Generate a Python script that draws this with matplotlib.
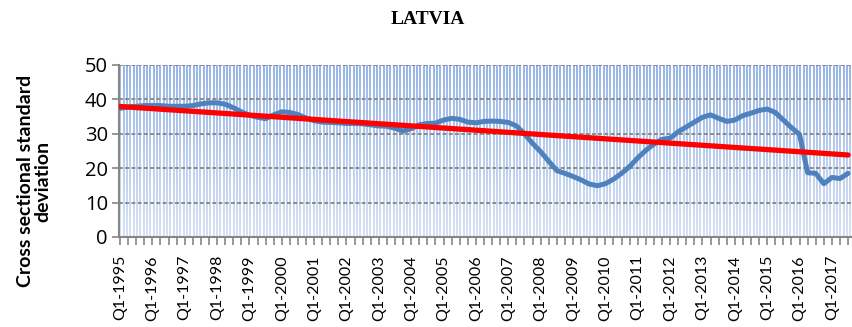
import numpy as np
import matplotlib
matplotlib.use("Agg")
from matplotlib import pyplot as plt

# quarterly cross sectional std dev, Q1-1995 .. Q3-2017
years = list(range(1995, 2018))
std_dev = [
    37.4, 37.8, 38.0, 38.2,
    38.2, 38.2, 38.0, 38.0,
    38.0, 38.2, 38.7, 39.0,
    39.0, 38.6, 37.6, 36.4,
    35.4, 34.8, 34.4, 35.5,
    36.4, 36.2, 35.6, 34.6,
    33.8, 33.4, 33.3, 33.2,
    33.0, 33.0, 32.9, 32.6,
    32.3, 32.2, 31.6, 30.8,
    31.5, 32.6, 33.0, 33.1,
    34.0, 34.5, 34.2, 33.4,
    33.2, 33.6, 33.7, 33.6,
    33.3, 32.3, 30.0, 27.2,
    24.8, 22.0, 19.3, 18.5,
    17.6, 16.6, 15.4, 14.9,
    15.5, 16.8, 18.5, 20.5,
    23.0, 25.2, 27.0, 28.4,
    28.7, 30.6, 32.0, 33.4,
    34.8, 35.5, 34.5, 33.6,
    34.0, 35.3, 36.0, 36.8,
    37.2, 36.2, 34.0, 31.8,
    29.8, 18.7, 18.5, 15.5,
    17.3, 17.0, 18.5,
]
quarters = ["Q%d-%d" % (q, y) for y in years for q in range(1, 5)][:len(std_dev)]

W, H, DPI = 852, 327, 100
fig = plt.figure(figsize=(W / DPI, H / DPI), dpi=DPI)
fig.patch.set_facecolor("white")

# plot area pixels
px_left, px_right, px_top, px_bottom = 119, 851, 65, 237
ax = fig.add_axes([px_left / W, 1 - px_bottom / H,
                   (px_right - px_left) / W, (px_bottom - px_top) / H])
ax.patch.set_alpha(0)

# striped fill behind the plot area, darker at the top
pw, ph = px_right - px_left, px_bottom - px_top
top_c = np.array([152, 182, 230]) / 255.0
bot_c = np.array([216, 227, 245]) / 255.0
t = np.linspace(0, 1, ph)[:, None]
col = top_c * (1 - t) + bot_c * t
stripes = np.ones((ph, pw, 3))
mask = (np.arange(pw) * 0.3) % 1 < 0.55
stripes[:, mask, :] = col[:, None, :] * np.ones((1, mask.sum(), 1))
fig.figimage(stripes, xo=px_left, yo=H - px_bottom, origin="upper", zorder=-1)

x = np.arange(len(std_dev))
ax.plot(x, std_dev, color="#4F81BD", lw=3.6, solid_joinstyle="round",
        solid_capstyle="round", zorder=3)

# linear trend
k, b = np.polyfit(x, std_dev, 1)
ax.plot(x, k * x + b, color="#FF0000", lw=3.8, solid_capstyle="round", zorder=4)

ax.set_xlim(-0.12, 90.36)
ax.set_ylim(0, 50)
ax.set_yticks(range(0, 51, 10))
ax.tick_params(axis="y", labelsize=14.5, length=5, width=1.2, color="#868686",
               pad=3, labelfontfamily="Open Sans")
for gy in range(10, 51, 10):
    ax.axhline(gy, color="#8A8A8A", lw=1.4, ls=(0, (2, 1.2)), zorder=2)

ax.set_xticks(x, minor=True)
ax.set_xticks(x[::4])
ax.set_xticklabels(quarters[::4], rotation=90, fontsize=11.5, family="Lato")
ax.tick_params(axis="x", which="both", length=6, width=1.2, color="#868686", pad=7)

for side in ("top", "right"):
    ax.spines[side].set_visible(False)
for side in ("left", "bottom"):
    ax.spines[side].set_color("#868686")
    ax.spines[side].set_linewidth(1.5)

fig.text(34 / W, 1 - 181 / H, "Cross sectional standard\ndeviation", rotation=90,
         ha="center", va="center", multialignment="center", fontsize=14,
         fontweight="bold", family="Lato", linespacing=1.05)
fig.text(428 / W, 1 - 20 / H, "LATVIA", ha="center", va="center", fontsize=14,
         fontweight="bold", family="Liberation Serif")

fig.savefig("out.png", dpi=DPI)
